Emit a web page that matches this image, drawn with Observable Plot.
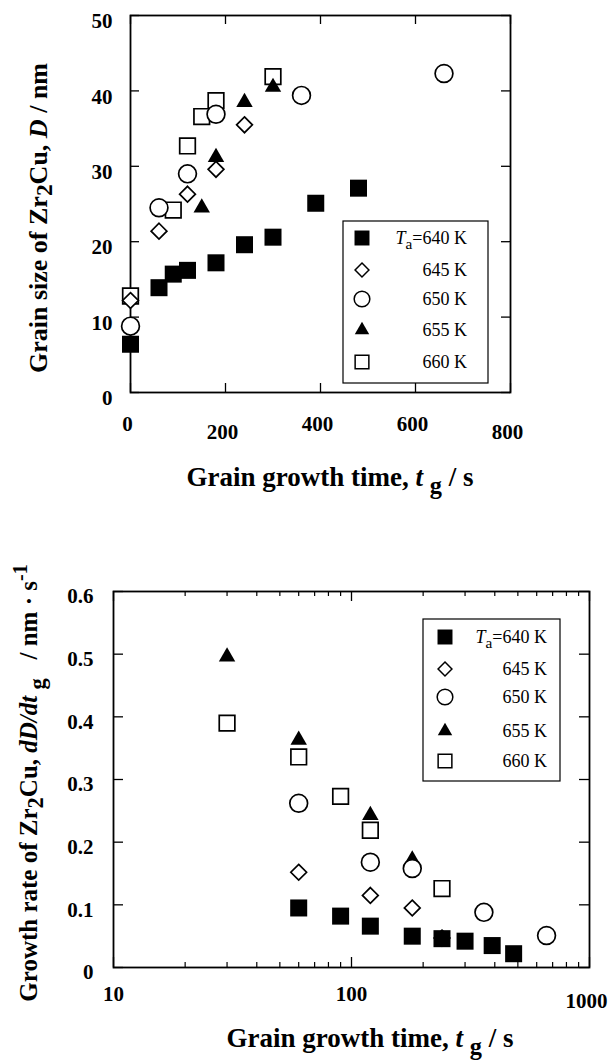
<!DOCTYPE html>
<html>
<head>
<meta charset="utf-8">
<script src="https://cdn.jsdelivr.net/npm/d3@7"></script>
<script src="https://cdn.jsdelivr.net/npm/@observablehq/plot@0.6"></script>
<style>
  html, body { margin: 0; padding: 0; background: #fff; }
  #chart { width: 612px; }
  #chart svg { display: block; font-family: "Liberation Serif", "Times New Roman", serif; }
  #chart svg text { font-family: "Liberation Serif", "Times New Roman", serif; }
</style>
</head>
<body>
<div id="chart"></div>
<script>
// Annealing temperatures (legend entries)
const seriesLabels = ["640 K", "645 K", "650 K", "655 K", "660 K"];

// Grain size D (nm) against grain growth time t_g (s)
const size640_t = [0, 60, 90, 120, 180, 240, 300, 390, 480];
const size640_D = [6.4, 13.9, 15.7, 16.2, 17.2, 19.6, 20.6, 25.1, 27.1];
const size645_t = [0, 60, 120, 180, 240];
const size645_D = [12.2, 21.4, 26.3, 29.6, 35.5];
const size650_t = [0, 60, 120, 180, 360, 660];
const size650_D = [8.8, 24.5, 29.0, 36.9, 39.4, 42.3];
const size655_t = [150, 180, 240, 300];
const size655_D = [24.5, 31.2, 38.5, 40.5];
const size660_t = [0, 90, 120, 150, 180, 300];
const size660_D = [12.8, 24.2, 32.7, 36.6, 38.7, 41.9];

// Growth rate dD/dt_g (nm/s) against grain growth time t_g (s)
const rate640_t = [60, 90, 120, 180, 240, 300, 390, 480];
const rate640_v = [0.095, 0.082, 0.066, 0.050, 0.046, 0.042, 0.035, 0.022];
const rate645_t = [60, 120, 180, 240];
const rate645_v = [0.152, 0.115, 0.095, 0.047];
const rate650_t = [60, 120, 180, 360, 660];
const rate650_v = [0.262, 0.168, 0.158, 0.088, 0.051];
const rate655_t = [30, 60, 120, 180];
const rate655_v = [0.496, 0.363, 0.243, 0.172];
const rate660_t = [30, 60, 90, 120, 240];
const rate660_v = [0.390, 0.336, 0.273, 0.219, 0.126];

// Axis ticks
const sizeXTicks = [0, 200, 400, 600, 800];
const sizeYTicks = [0, 10, 20, 30, 40, 50];
const rateXTicks = [10, 100, 1000];
const rateXMinor = [20, 30, 40, 50, 60, 70, 80, 90, 200, 300, 400, 500, 600, 700, 800, 900];
const rateYTicks = [0, 0.1, 0.2, 0.3, 0.4, 0.5, 0.6];

const FONT = "Liberation Serif, Times New Roman, serif";

// Marker look per temperature (same order as seriesLabels)
const markerStyles = [
  {symbol: "square",   d3symbol: d3.symbolSquare,   fill: "black", stroke: "none",  r: 9.6},
  {symbol: "diamond2", d3symbol: d3.symbolDiamond2, fill: "white", stroke: "black", r: 7.1},
  {symbol: "circle",   d3symbol: d3.symbolCircle,   fill: "white", stroke: "black", r: 8.9},
  {symbol: "triangle", d3symbol: d3.symbolTriangle, fill: "black", stroke: "none",  r: 6.1},
  {symbol: "square",   d3symbol: d3.symbolSquare,   fill: "white", stroke: "black", r: 8.8}
];

const toRows = (ts, vs) => ts.map((t, i) => ({t, v: vs[i]}));
const sizeSeries = [
  toRows(size640_t, size640_D), toRows(size645_t, size645_D), toRows(size650_t, size650_D),
  toRows(size655_t, size655_D), toRows(size660_t, size660_D)
];
const rateSeries = [
  toRows(rate640_t, rate640_v), toRows(rate645_t, rate645_v), toRows(rate650_t, rate650_v),
  toRows(rate655_t, rate655_v), toRows(rate660_t, rate660_v)
];

// Dots, drawn from 660 K down to 640 K so the lower temperatures sit on top
function seriesDots(series) {
  return series.map((rows, i) => ({rows, s: markerStyles[i]})).reverse().map(({rows, s}) =>
    Plot.dot(rows, {
      x: "t", y: "v", symbol: s.symbol, r: s.r,
      fill: s.fill, stroke: s.stroke, strokeWidth: s.stroke === "none" ? 0 : 1.7
    })
  );
}

// Inward ticks on all four sides of the frame
function inwardTicks(xs, ys, fw, fh, len) {
  return [
    Plot.tickX(xs, {x: d => d, insetTop: fh - len, strokeWidth: 1.3}),
    Plot.tickX(xs, {x: d => d, insetBottom: fh - len, strokeWidth: 1.3}),
    Plot.tickY(ys, {y: d => d, insetRight: fw - len, strokeWidth: 1.3}),
    Plot.tickY(ys, {y: d => d, insetLeft: fw - len, strokeWidth: 1.3})
  ];
}

const tickText = {tickSize: 0, tickFormat: d => String(d), fontSize: 21, fontWeight: "bold", label: null};
const baseStyle = {fontFamily: FONT, fontSize: "21px", fontWeight: "bold", background: "white", color: "black", overflow: "visible"};

// ---- Grain size chart ----
const sizeFrame = {left: 130, right: 510, top: 15, bottom: 392};
const sizeH = 520;
const sizePlot = Plot.plot({
  width: 612, height: sizeH,
  marginLeft: sizeFrame.left, marginRight: 612 - sizeFrame.right,
  marginTop: sizeFrame.top, marginBottom: sizeH - sizeFrame.bottom,
  style: baseStyle,
  x: {domain: [0, 800], label: null},
  y: {domain: [0, 50], label: null},
  marks: [
    ...inwardTicks(sizeXTicks, sizeYTicks, sizeFrame.right - sizeFrame.left, sizeFrame.bottom - sizeFrame.top, 9),
    Plot.axisX(sizeXTicks.filter(d => d !== 200 && d !== 800), {...tickText, anchor: "bottom", tickPadding: 24, dx: -3}),
    Plot.axisX(sizeXTicks.filter(d => d === 200 || d === 800), {...tickText, anchor: "bottom", tickPadding: 32, dx: -3}),
    Plot.axisY(sizeYTicks, {...tickText, anchor: "left", tickPadding: 18, dy: 6}),
    Plot.frame({stroke: "black", strokeWidth: 1.8}),
    ...seriesDots(sizeSeries)
  ]
});

// ---- Growth rate chart ----
const rateFrame = {left: 113, right: 589, top: 71, bottom: 447};
const rateH = 541;
const ratePlot = Plot.plot({
  width: 612, height: rateH,
  marginLeft: rateFrame.left, marginRight: 612 - rateFrame.right,
  marginTop: rateFrame.top, marginBottom: rateH - rateFrame.bottom,
  style: baseStyle,
  x: {type: "log", domain: [10, 1000], label: null},
  y: {domain: [0, 0.6], label: null},
  marks: [
    ...inwardTicks(rateXTicks, rateYTicks, rateFrame.right - rateFrame.left, rateFrame.bottom - rateFrame.top, 10),
    Plot.tickX(rateXMinor, {x: d => d, insetTop: rateFrame.bottom - rateFrame.top - 5, strokeWidth: 1.2}),
    Plot.tickX(rateXMinor, {x: d => d, insetBottom: rateFrame.bottom - rateFrame.top - 5, strokeWidth: 1.2}),
    Plot.axisX(rateXTicks.filter(d => d < 1000), {...tickText, anchor: "bottom", tickPadding: 19}),
    Plot.axisX(rateXTicks.filter(d => d >= 1000), {...tickText, anchor: "bottom", tickPadding: 26, dx: -3}),
    Plot.axisY(rateYTicks, {...tickText, anchor: "left", tickPadding: 20, dy: 5}),
    Plot.frame({stroke: "black", strokeWidth: 1.8}),
    ...seriesDots(rateSeries)
  ]
});

// Text with italic / subscript / superscript runs
function richText(parent, x, y, parts, {size, weight = "bold", anchor = "middle", rotate = 0}) {
  const t = parent.append("text")
    .attr("transform", `translate(${x},${y}) rotate(${rotate})`)
    .attr("text-anchor", anchor)
    .attr("font-family", FONT)
    .attr("font-size", size)
    .attr("font-weight", weight)
    .attr("fill", "black");
  let cur = 0;
  for (const p of parts) {
    const shift = (p.shift || 0) * size;
    const ts = t.append("tspan").text(p.text).attr("dy", shift - cur);
    cur = shift;
    if (p.italic) ts.attr("font-style", "italic");
    if (p.scale) ts.attr("font-size", size * p.scale);
  }
  return t;
}

// Boxed legend in the upper right of a frame
function legend(svg, box) {
  const g = d3.select(svg).append("g");
  g.append("rect")
    .attr("x", box.x).attr("y", box.y).attr("width", box.w).attr("height", box.h)
    .attr("fill", "white").attr("stroke", "black").attr("stroke-width", 1.2);
  seriesLabels.forEach((label, i) => {
    const s = markerStyles[i];
    const cy = box.y + box.rows[i];
    const r = s.r * 0.88;
    g.append("path")
      .attr("transform", `translate(${box.markerX},${cy})`)
      .attr("d", d3.symbol(s.d3symbol, r * r * Math.PI)())
      .attr("fill", s.fill).attr("stroke", s.stroke)
      .attr("stroke-width", s.stroke === "none" ? 0 : 1.5);
    const parts = i === 0
      ? [{text: "T", italic: true}, {text: "a", shift: 0.3, scale: 0.85}, {text: "=" + label, shift: 0}]
      : [{text: label}];
    richText(g, box.textX, cy + 6, parts, {size: 18, weight: "normal", anchor: "end"});
  });
}

// Axis titles and legend for the grain size chart
{
  const g = d3.select(sizePlot);
  richText(g, 46.5, 218, [
    {text: "Grain size of Zr"}, {text: "2", shift: 0.22, scale: 0.9}, {text: "Cu, ", shift: 0},
    {text: "D", italic: true}, {text: " / nm"}
  ], {size: 26, rotate: -90});
  richText(g, 330, 486, [
    {text: "Grain growth time, "}, {text: "t", italic: true}, {text: " "},
    {text: "g", shift: 0.3, scale: 0.9}, {text: " / s", shift: 0}
  ], {size: 27});
  legend(sizePlot, {x: 343, y: 221, w: 145, h: 162, markerX: 362, textX: 467, rows: [17, 49, 78, 109, 141]});
}

// Axis titles and legend for the growth rate chart
{
  const g = d3.select(ratePlot);
  richText(g, 37, 263, [
    {text: "Growth rate of Zr"}, {text: "2", shift: 0.22, scale: 0.9}, {text: "Cu, ", shift: 0},
    {text: "dD/dt", italic: true}, {text: " "}, {text: "g", shift: 0.3, scale: 0.9},
    {text: "   / nm · s", shift: 0}, {text: "-1", shift: -0.4, scale: 0.8}
  ], {size: 25, rotate: -90});
  richText(g, 370, 527, [
    {text: "Grain growth time, "}, {text: "t", italic: true}, {text: " "},
    {text: "g", shift: 0.3, scale: 0.9}, {text: " / s", shift: 0}
  ], {size: 27});
  legend(ratePlot, {x: 423, y: 99, w: 137, h: 162, markerX: 445, textX: 547, rows: [18, 50, 78, 112, 142]});
}

document.getElementById("chart").append(sizePlot, ratePlot);
</script>
</body>
</html>
